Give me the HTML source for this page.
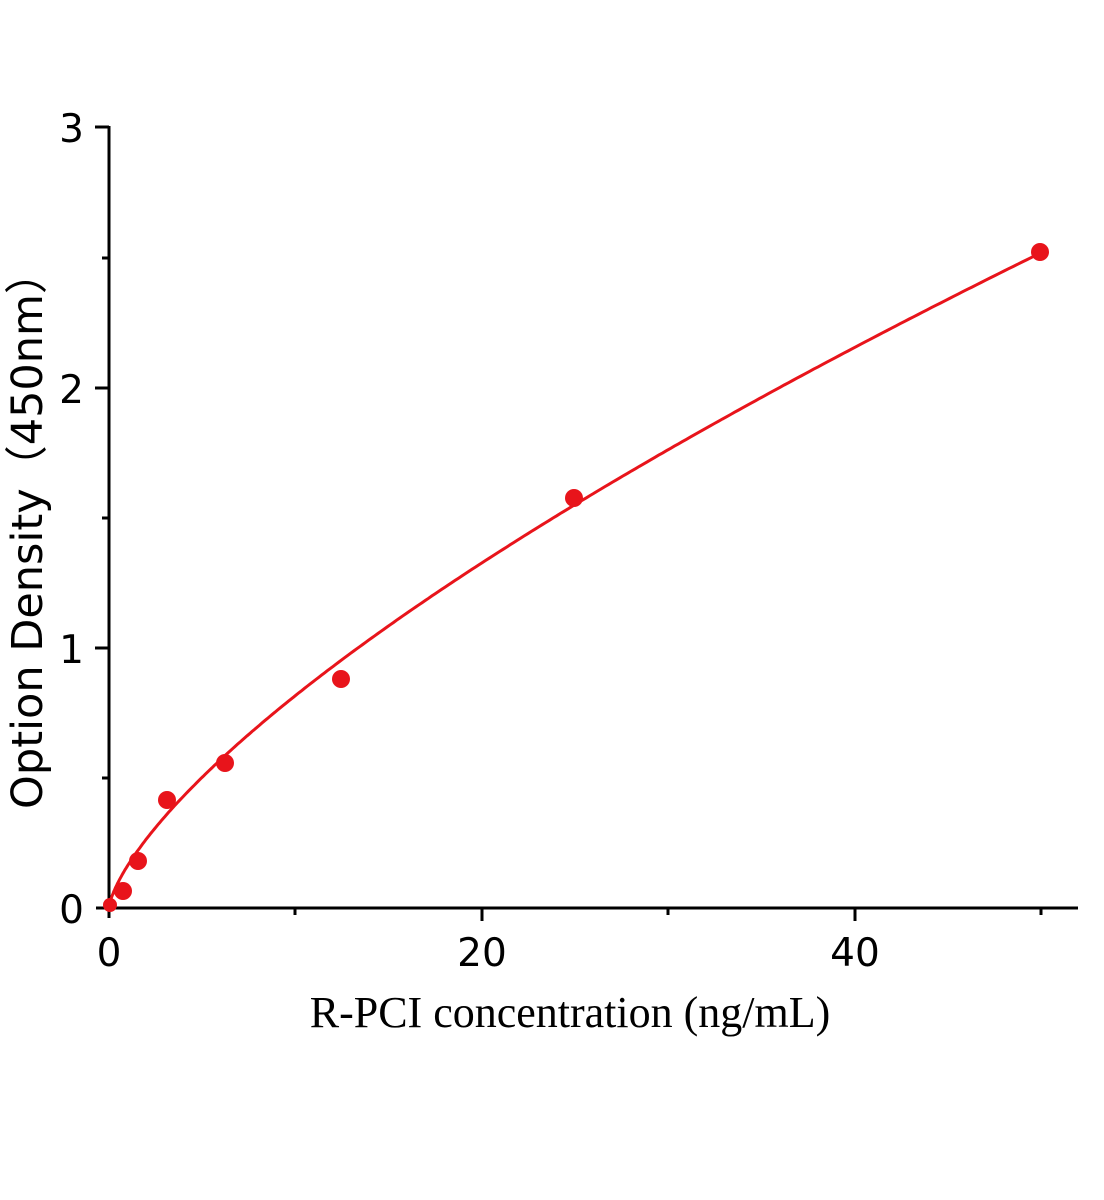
<!DOCTYPE html>
<html><head><meta charset="utf-8"><style>body{margin:0;background:#fff}svg{display:block}</style></head>
<body>
<svg width="1104" height="1200" xmlns="http://www.w3.org/2000/svg">
<g stroke="#000" stroke-width="3" fill="none">
<line x1="109" y1="126" x2="109" y2="918"/>
<line x1="96" y1="908" x2="1078" y2="908"/>
<line x1="95" y1="127" x2="109" y2="127"/>
<line x1="95" y1="388" x2="109" y2="388"/>
<line x1="95" y1="648" x2="109" y2="648"/>
<line x1="102" y1="258" x2="109" y2="258"/>
<line x1="102" y1="518" x2="109" y2="518"/>
<line x1="102" y1="778" x2="109" y2="778"/>
<line x1="482" y1="908" x2="482" y2="921"/>
<line x1="855" y1="908" x2="855" y2="921"/>
<line x1="295" y1="908" x2="295" y2="915"/>
<line x1="668" y1="908" x2="668" y2="915"/>
<line x1="1041" y1="908" x2="1041" y2="915"/>
</g>
<g font-family="'DejaVu Sans','Liberation Sans',sans-serif" font-size="39" fill="#000">
<text x="84" y="142" text-anchor="end">3</text>
<text x="84" y="403" text-anchor="end">2</text>
<text x="84" y="663" text-anchor="end">1</text>
<text x="84" y="923" text-anchor="end">0</text>
<text x="109" y="966" text-anchor="middle">0</text>
<text x="482" y="966" text-anchor="middle">20</text>
<text x="855" y="966" text-anchor="middle">40</text>
<text transform="translate(42,530) rotate(-90)" text-anchor="middle" font-size="43">Option Density（450nm）</text>
</g>
<text x="570" y="1027" text-anchor="middle" font-family="'Liberation Serif',serif" font-size="44">R-PCI concentration (ng/mL)</text>
<path id="c" fill="none" stroke="#e8141b" stroke-width="3"/>
<g fill="#e8141b">
<circle cx="110" cy="905" r="7"/>
<circle cx="123" cy="891" r="9"/>
<circle cx="138" cy="861" r="9"/>
<circle cx="167" cy="800" r="9"/>
<circle cx="225" cy="763" r="9"/>
<circle cx="341" cy="679" r="9"/>
<circle cx="574" cy="498" r="9"/>
<circle cx="1040" cy="252" r="9"/>
</g>
<script>
var d="";for(var i=0;i<=300;i++){var x=50*Math.pow(i/300,1.5);var y=0.163*Math.pow(x,0.7);d+=(i?"L":"M")+(109+x*18.64).toFixed(1)+","+(908-y*260).toFixed(1);}
document.getElementById("c").setAttribute("d",d);
</script>
</svg>
</body></html>
